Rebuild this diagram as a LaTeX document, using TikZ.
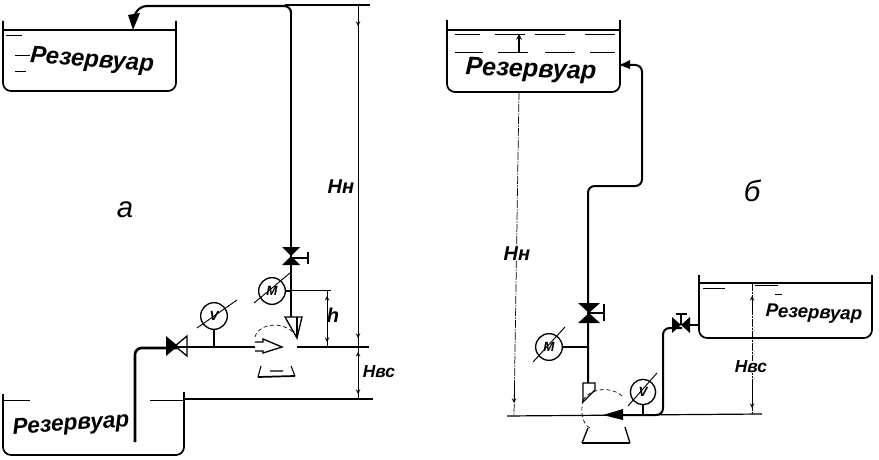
\documentclass[tikz,border=0pt]{standalone}
\usepackage{fontspec}
\setmainfont{Liberation Sans}
\usetikzlibrary{calc}
\tikzset{
	pipeline/.style={line width=1.5pt, rounded corners=5pt},
	riser/.style={line width=1pt, rounded corners=5pt},
	tankwall/.style={line width=1.3pt, rounded corners=6pt},
	dimline/.style={line width=0.55pt},
	brokenline/.style={line width=0.55pt, dash pattern=on 6pt off 1pt on 1pt off 1pt},
	dimtip/.style={line width=0.55pt, >=stealth, ->},
	pumpdash/.style={line width=0.5pt, densely dashed},
	waterline/.style={line width=0.6pt},
	gaugeball/.style={draw, circle, line width=1pt, minimum size=20pt, inner sep=0pt, font=\bfseries\itshape\normalsize},
	script/.style={font=\bfseries\itshape, inner sep=0pt}
}
\begin{document}
\begin{tikzpicture}[x=0.75pt,y=-0.75pt]
		\useasboundingbox (0,0) rectangle (879,460);
		
		%%%%% SCHEME A %%%%%
		
		\draw[tankwall] (3,21) -- (3,91) -- (176,91) -- (176,21);
		\draw[line width=0.9pt] (3,30) -- (176,30);
		\draw[waterline] (6,35) -- (22,35) (15,55) -- (30,55) (15,71) -- (26,71);
		\node[script, rotate=-4, font=\bfseries\itshape\fontsize{18}{18}\selectfont] (tankTop) at (92,61) {Резервуар};
		
		\draw[tankwall] (3,394) -- (3,455) -- (184,455) -- (184,392);
		\draw[waterline] (3,400) -- (30,400) (150,400) -- (184,400);
		\node[script, rotate=4, font=\bfseries\itshape\fontsize{17}{17}\selectfont] (tankLow) at (71,425) {Резервуар};
		
		% suction side
		\draw[line width=2pt, rounded corners=5pt] (135,442) -- (135,348) -- (177,348);
		\draw[pipeline] (177,347) -- (255,347);
		\fill (166,336) -- (178,346) -- (166,356) -- cycle;
		\draw[line width=1pt] (187,336) -- (175,346) -- (187,356) -- cycle;
		\node[gaugeball] (gaugeV) at (214,316) {V};
		\draw[line width=0.7pt] (197,328) -- (237,300);
		\coordinate (tapV) at (214,347);
		\draw[line width=1.5pt] (gaugeV) -- (tapV);
		
		% pump
		\draw[pumpdash] (255,337) .. controls (259,322) and (288,320) .. (297,338);
		\draw[line width=1pt, fill=white] (255,342) -- (263,342) -- (263,339) -- (282,347) -- (263,353) -- (263,351) -- (255,351);
		\draw[line width=1.3pt] (258,377) -- (295,376);
		\draw[line width=0.8pt] (258,377) -- (261,366) (295,376) -- (291,366) (270,371) -- (283,371);
		\draw[line width=1pt] (285,317) -- (302,317) -- (297,338) -- cycle;
		\draw[line width=1.5pt] (297,317) -- (297,337);
		
		% delivery side
		\draw[line width=1pt] (291,317) -- (291,12);
		\draw[line width=1.6pt, rounded corners=5pt] (291,12) -- (291,6) -- (140,6) -- (134,16);
		\fill (128,15) -- (140,13) -- (133,30) -- cycle;
		\fill (282,247) -- (300,247) -- (282,265) -- (300,265) -- cycle;
		\draw[line width=1pt] (291,258) -- (308,258);
		\draw[line width=1pt] (308,252) -- (308,264);
		\node[gaugeball] (gaugeM) at (272,291) {M};
		\draw[line width=0.7pt] (254,303) -- (290,273);
		\coordinate (tapM) at (291,291);
		\draw[line width=1.4pt] (gaugeM) -- (tapM);
		
		% heads
		\draw[line width=0.8pt] (285,5) -- (370,5);
		\draw[dimline] (291,290) -- (331,290);
		\draw[line width=0.9pt] (297,347) -- (369,347);
		\draw[line width=0.9pt] (184,399) -- (373,399);
		\draw[dimline] (358,5) -- (358,399);
		\draw[dimtip] (358,10) -- (358,26);
		\draw[dimtip] (358,320) -- (358,338);
		\draw[dimtip] (358,362) -- (358,352);
		\draw[dimtip] (358,380) -- (358,394);
		\draw[dimline] (327,290) -- (327,347);
		\draw[dimtip] (327,306) -- (327,296);
		\draw[dimtip] (327,330) -- (327,342);
		
		\node[script, font=\bfseries\itshape\fontsize{15}{15}\selectfont] (headH) at (341,187) {Hн};
		\node[script, font=\bfseries\itshape\fontsize{15}{15}\selectfont] (headSmall) at (333,315) {h};
		\node[script, font=\bfseries\itshape\fontsize{13}{13}\selectfont] (headSuct) at (379,372) {Hвс};
		\node[script, font=\itshape\fontsize{22}{22}\selectfont] (markA) at (125,210) {а};
		
		%%%%% SCHEME B %%%%%
		
		\draw[tankwall] (447,20) -- (447,92) -- (620,92) -- (620,20);
		\draw[line width=0.9pt] (447,30) -- (620,30);
		\draw[waterline] (455,34) -- (480,34) (495,34) -- (525,34) (535,34) -- (565,34) (585,34) -- (615,34);
		\draw[waterline] (455,52) -- (483,52) (498,52) -- (528,52) (545,52) -- (575,52) (590,52) -- (615,52);
		\node[script, rotate=-2, font=\bfseries\itshape\fontsize{19}{19}\selectfont] (tankHigh) at (531,71) {Резервуар};
		
		\draw[tankwall] (699,275) -- (699,338) -- (872,338) -- (872,275);
		\draw[line width=0.9pt] (699,283) -- (872,283);
		\draw[waterline] (703,288) -- (725,288) (755,285) -- (778,285) (775,294) -- (782,294);
		\node[script, rotate=-2, font=\bfseries\itshape\fontsize{14}{14}\selectfont] (tankRight) at (814,314) {Резервуар};
		
		% delivery side
		\draw[riser, line width=1.5pt] (620,65) -- (642,65) -- (642,186) -- (588,186) -- (588,383);
		\fill (620,65) -- (630,60) -- (630,69) -- cycle;
		\fill (578,303) -- (600,303) -- (578,323) -- (600,323) -- cycle;
		\draw[line width=1pt] (589,313) -- (604,313);
		\draw[line width=1pt] (604,304) -- (604,321);
		\node[gaugeball] (gaugeMb) at (549,347) {M};
		\draw[line width=0.7pt] (533,362) -- (565,327);
		\coordinate (tapMb) at (588,347);
		\draw[line width=1pt] (gaugeMb) -- (tapMb);
		
		% pump
		\draw[pumpdash] (583,400) .. controls (590,388) and (612,386) .. (622,396);
		\draw[pumpdash] (583,400) .. controls (580,412) and (583,425) .. (590,428);
		\draw[line width=1pt] (583,383) -- (595,383) -- (595,390) -- (583,402) -- cycle;
		\draw[line width=1.5pt] (582,443) -- (630,443);
		\draw[line width=1pt] (582,443) -- (588,428) (630,443) -- (625,427);
		
		% suction side
		\draw[line width=1.5pt, rounded corners=5pt] (620,415) -- (663,415) -- (663,328) -- (682,328);
		\draw[line width=1.5pt] (682,325) -- (699,325);
		\fill (603,415) -- (623,409) -- (623,420) -- cycle;
		\fill (672,317) -- (690,333) -- (690,317) -- (672,333) -- cycle;
		\draw[line width=1pt] (681,325) -- (681,314);
		\draw[line width=1pt] (676,314) -- (687,314);
		\node[gaugeball, minimum size=19pt] (gaugeVb) at (643,392) {V};
		\draw[line width=0.7pt] (628,406) -- (657,373);
		\coordinate (tapVb) at (643,415);
		\draw[line width=1pt] (gaugeVb) -- (tapVb);
		
		% heads
		\draw[line width=0.9pt] (507,416) -- (762,414);
		\draw[brokenline] (519,92) -- (514,416);
		\draw[dimtip] (514,385) -- (514,403);
		\draw[line width=0.9pt, ->, >=stealth] (519,52) -- (519,34);
		\draw[brokenline] (752,283) -- (752,415);
		\draw[dimtip] (752,312) -- (752,296);
		\draw[dimtip] (752,385) -- (752,408);
		
		\node[script, font=\bfseries\itshape\fontsize{15}{15}\selectfont, fill=white] (headHb) at (517,254) {Hн};
		\node[script, font=\bfseries\itshape\fontsize{13}{13}\selectfont, fill=white] (headSuctb) at (751,367) {Hвс};
		\node[script, font=\itshape\fontsize{22}{22}\selectfont] (markB) at (752,191) {б};
		
		%%%%% END %%%%%
	\end{tikzpicture}
\end{document}
